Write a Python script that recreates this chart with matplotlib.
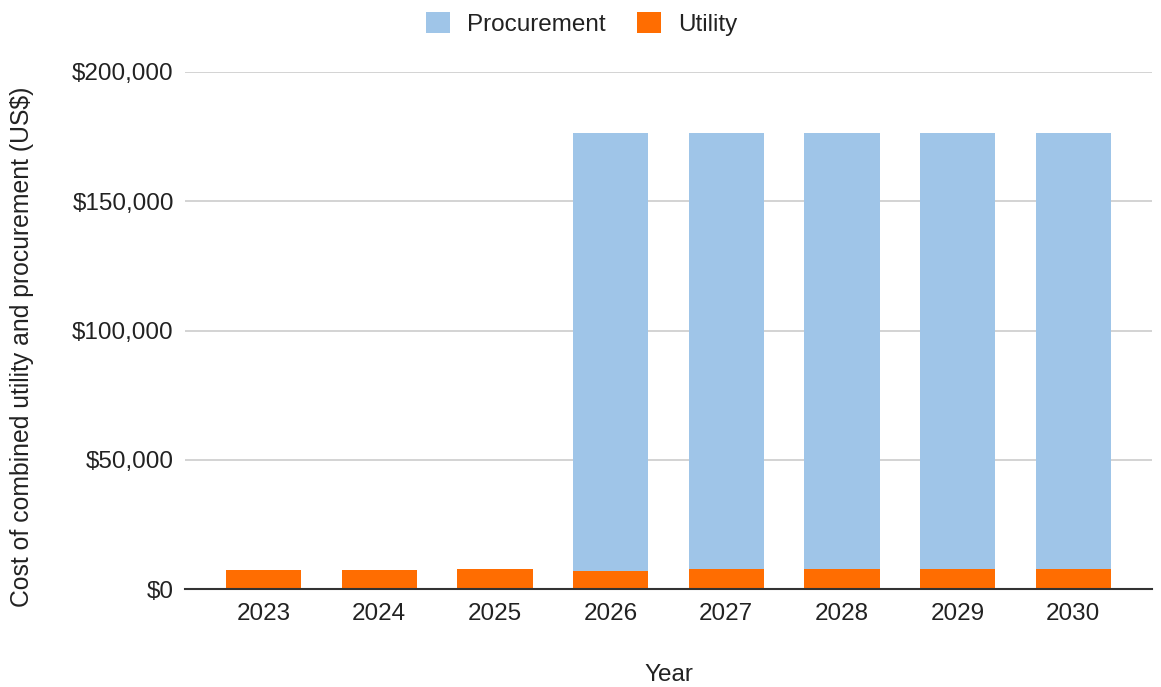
import numpy as np
import matplotlib
matplotlib.use("Agg")
import matplotlib.pyplot as plt
from matplotlib.ticker import FuncFormatter

plt.rcParams['font.family'] = ['Liberation Sans', 'DejaVu Sans']

years = ["2023", "2024", "2025", "2026", "2027", "2028", "2029", "2030"]
utility = [7300, 7300, 8000, 7200, 8000, 8000, 8000, 8000]
procurement = [0, 0, 0, 169100, 168300, 168300, 168300, 168300]

col_proc = "#9fc5e8"
col_util = "#ff6d01"
text_col = "#222222"
fs = 17.5

fig = plt.figure(figsize=(11.61, 6.87), dpi=100)
ax = fig.add_axes([0.1593, 0.1422, 0.9922 - 0.1593, 0.8952 - 0.1422])

x = np.arange(len(years))
ax.bar(x, utility, width=0.65, color=col_util, label="Utility", zorder=3)
ax.bar(x, procurement, width=0.65, bottom=utility, color=col_proc,
       label="Procurement", zorder=3)

ax.set_xlim(-0.68, 7.68)
ax.set_ylim(0, 200000)
ax.set_yticks([0, 50000, 100000, 150000, 200000])
ax.yaxis.set_major_formatter(FuncFormatter(lambda v, p: f"${v:,.0f}"))
ax.set_xticks(x)
ax.set_xticklabels(years)

ax.grid(axis='y', color='#cccccc', linewidth=1.2, zorder=0)
for s in ['top', 'right', 'left']:
    ax.spines[s].set_visible(False)
ax.spines['bottom'].set_color('#333333')
ax.spines['bottom'].set_linewidth(1.5)
ax.spines['bottom'].set_zorder(4)
ax.tick_params(axis='both', length=0, labelsize=fs, colors=text_col)
ax.tick_params(axis='y', pad=8)
ax.tick_params(axis='x', pad=10)

ax.set_xlabel("Year", fontsize=fs, color=text_col, labelpad=28)
# y title placed by hand, it sits a bit below the plot centre
fig.text(22 / 1161, 1 - 347 / 687, "Cost of combined utility and procurement (US$)",
         rotation=90, ha='center', va='center', fontsize=17.8, color=text_col)

handles, labels = ax.get_legend_handles_labels()
fig.legend(handles[::-1], labels[::-1], loc='upper center',
           bbox_to_anchor=(0.501, 1.015), ncol=2, frameon=False, fontsize=fs,
           handlelength=1.0, handleheight=1.0, handletextpad=0.7,
           columnspacing=1.3, labelcolor=text_col)

fig.savefig("out.png", dpi=100)
